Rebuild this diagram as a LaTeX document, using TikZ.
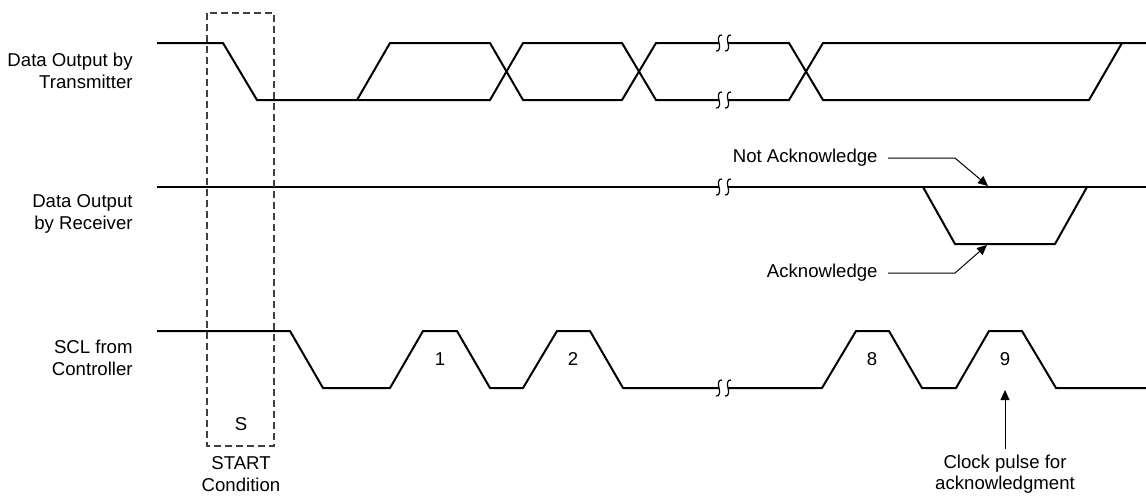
\documentclass[tikz,border=0pt]{standalone}
\usepackage{fontspec}
\setmainfont{Liberation Sans}
\usetikzlibrary{arrows.meta}
\tikzset{
  wave/.style={line width=1pt, line join=miter},
  brk/.style={line width=0.6pt},
  ptr/.style={line width=0.5pt, -{Triangle[length=5pt,width=4.5pt]}},
  startbox/.style={line width=0.6pt, draw=black!75, dash pattern=on 3.5pt off 2pt},
  lbl/.style={font=\fontsize{9.3}{10.7}\selectfont, align=center, inner sep=0pt},
}
\begin{document}
\begin{tikzpicture}[x=0.5pt,y=-0.5pt]
  \useasboundingbox (0,0) rectangle (1146,495);

  % Signal names
  \node[lbl, anchor=east, align=right] (txname) at (133,71) {Data Output by\\Transmitter};
  \node[lbl, anchor=east, align=right] (rxname) at (133,214) {Data Output\\by Receiver};
  \node[lbl, anchor=east, align=right] (sclname) at (133,358) {SCL from\\Controller};

  % Data output by transmitter
  \draw[wave] (157,43) -- (223,43) -- (257,100) -- (357,100);
  \draw[wave] (357,100) -- (390,43) -- (490,43) -- (523,100) -- (622,100) -- (656,43) -- (719,43);
  \draw[wave] (357,100) -- (490,100) -- (523,43) -- (622,43) -- (656,100) -- (719,100);
  \draw[wave] (728,43) -- (789,43) -- (823,100) -- (1089,100) -- (1122,43) -- (1146,43);
  \draw[wave] (728,100) -- (789,100) -- (823,43) -- (1122,43);

  % Data output by receiver
  \draw[wave] (157,187) -- (719,187);
  \draw[wave] (728,187) -- (1146,187);
  \draw[wave] (923,187) -- (955,244) -- (1055,244) -- (1087,187);

  % SCL from controller
  \draw[wave] (157,331) -- (290,331) -- (323,388) -- (390,388) -- (423,331) -- (457,331)
    -- (490,388) -- (523,388) -- (557,331) -- (590,331) -- (623,388) -- (719,388);
  \draw[wave] (728,388) -- (822,388) -- (856,331) -- (889,331) -- (922,388) -- (956,388)
    -- (989,331) -- (1022,331) -- (1056,388) -- (1146,388);

  % Break marks
  \foreach \y in {43,100,187,388} {
    \foreach \x in {719,728} {
      \draw[brk] (\x+3,\y-8) .. controls (\x-1,\y-9) and (\x-1,\y-3) .. (\x,\y)
        .. controls (\x+1,\y+3) and (\x+1,\y+9) .. (\x-3,\y+8);
    }
  }

  % Clock pulse numbers
  \node[lbl] (p1) at (440,359) {1};
  \node[lbl] (p2) at (573,359) {2};
  \node[lbl] (p8) at (872,359) {8};
  \node[lbl] (p9) at (1005,359) {9};

  % START condition
  \draw[startbox] (207,13) rectangle (274,446);
  \node[lbl] (s) at (241,424) {S};
  \node[lbl] (start) at (241,474) {START\\Condition};

  % Acknowledge pointers
  \node[lbl, anchor=east, inner sep=5pt] (nack) at (888,158) {Not Acknowledge};
  \coordinate (nackbend) at (955,158);
  \coordinate (nacktip) at (988,186);
  \draw[ptr] (nack.east) -- (nackbend) -- (nacktip);

  \node[lbl, anchor=east, inner sep=5pt] (ack) at (888,273) {Acknowledge};
  \coordinate (ackbend) at (955,273);
  \coordinate (acktip) at (987,245);
  \draw[ptr] (ack.east) -- (ackbend) -- (acktip);

  \node[lbl] (clk) at (1005,474) {Clock pulse for\\acknowledgment};
  \coordinate (clktip) at (1005,390);
  \draw[ptr] (clk.north) ++(0,-5) -- (clktip);
\end{tikzpicture}
\end{document}
